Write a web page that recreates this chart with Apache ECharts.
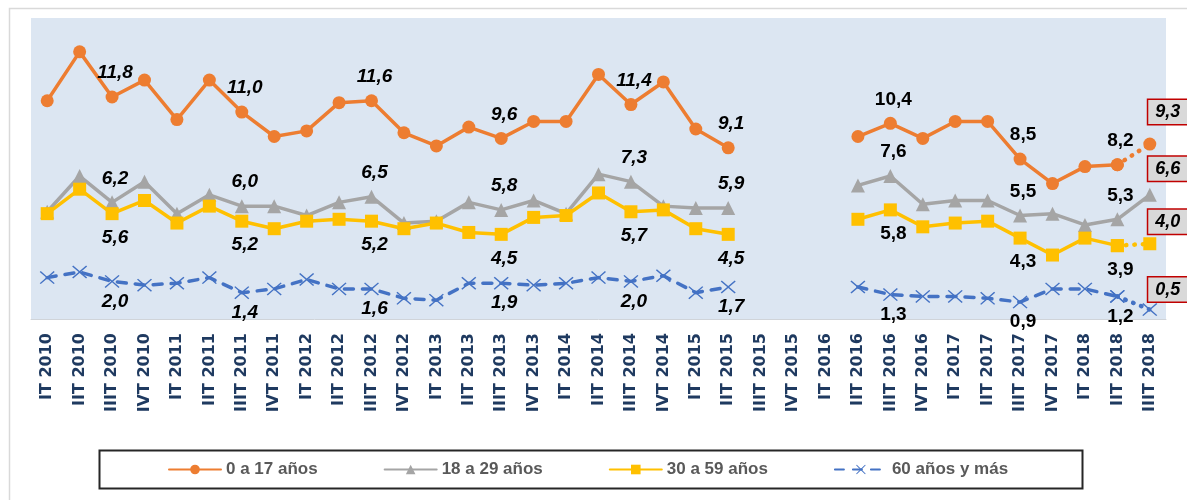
<!DOCTYPE html>
<html>
<head>
<meta charset="utf-8">
<script src="https://cdn.jsdelivr.net/npm/echarts@6/dist/echarts.min.js"></script>
<style>
  body { margin: 0; background: #fff; }
  #chart { width: 1187px; height: 500px; }
</style>
</head>
<body>
<div id="chart"></div>
<script>
// categorías (trimestres)
var categories = [
  'IT 2010', 'IIT 2010', 'IIIT 2010', 'IVT 2010',
  'IT 2011', 'IIT 2011', 'IIIT 2011', 'IVT 2011',
  'IT 2012', 'IIT 2012', 'IIIT 2012', 'IVT 2012',
  'IT 2013', 'IIT 2013', 'IIIT 2013', 'IVT 2013',
  'IT 2014', 'IIT 2014', 'IIIT 2014', 'IVT 2014',
  'IT 2015', 'IIT 2015', 'IIIT 2015', 'IVT 2015',
  'IT 2016', 'IIT 2016', 'IIIT 2016', 'IVT 2016',
  'IT 2017', 'IIT 2017', 'IIIT 2017', 'IVT 2017',
  'IT 2018', 'IIT 2018', 'IIIT 2018'
];
var seriesNames = ['0 a 17 años', '18 a 29 años', '30 a 59 años', '60 años y más'];
var age0to17 = [11.6, 14.2, 11.8, 12.7, 10.6, 12.7, 11.0, 9.7, 10.0, 11.5, 11.6, 9.9, 9.2, 10.2, 9.6, 10.5, 10.5, 13.0,
  11.4, 12.6, 10.1, 9.1, null, null, null, 9.7, 10.4, 9.6, 10.5, 10.5, 8.5, 7.2, 8.1, 8.2, 9.3];
var age18to29 = [5.7, 7.6, 6.2, 7.3, 5.6, 6.6, 6.0, 6.0, 5.5, 6.2, 6.5, 5.1, 5.2, 6.2, 5.8, 6.3, 5.6, 7.7,
  7.3, 6.0, 5.9, 5.9, null, null, null, 7.1, 7.6, 6.1, 6.3, 6.3, 5.5, 5.6, 5.0, 5.3, 6.6];
var age30to59 = [5.6, 6.9, 5.6, 6.3, 5.1, 6.0, 5.2, 4.8, 5.2, 5.3, 5.2, 4.8, 5.1, 4.6, 4.5, 5.4, 5.5, 6.7,
  5.7, 5.8, 4.8, 4.5, null, null, null, 5.3, 5.8, 4.9, 5.1, 5.2, 4.3, 3.4, 4.3, 3.9, 4.0];
var age60plus = [2.2, 2.5, 2.0, 1.8, 1.9, 2.2, 1.4, 1.6, 2.1, 1.6, 1.6, 1.1, 1.0, 1.9, 1.9, 1.8, 1.9, 2.2,
  2.0, 2.3, 1.4, 1.7, null, null, null, 1.7, 1.3, 1.2, 1.2, 1.1, 0.9, 1.6, 1.6, 1.2, 0.5];
// puntos con etiqueta
var labelIdx = [2, 6, 10, 14, 18, 21, 26, 30, 33];

(function () {
  var myChart = echarts.init(document.getElementById('chart'));
  var lastIdx = categories.length - 1;
  var crossPath = 'path://M0,0.7 L0.7,0 L5,4.3 L9.3,0 L10,0.7 L5.7,5 L10,9.3 L9.3,10 L5,5.7 L0.7,10 L0,9.3 L4.3,5 Z';

  function fmt(v) {
    return v.toFixed(1).replace('.', ',');
  }

  // etiqueta en caja roja para el último trimestre
  function boxLabel(v, dy) {
    return {
      show: true,
      offset: [18, dy],
      fontStyle: 'italic',
      fontSize: 18,
      backgroundColor: '#d9d9d9',
      borderColor: '#c00000',
      borderWidth: 1.5,
      padding: [3, 7],
      formatter: fmt(v)
    };
  }

  // datos con etiquetas por punto
  function buildData(values, dy, boxDy, keepLast) {
    return values.map(function (v, i) {
      if (v === null) return null;
      if (i === lastIdx) {
        return keepLast ? { value: v, label: boxLabel(v, boxDy) } : null;
      }
      var item = { value: v };
      if (labelIdx.indexOf(i) >= 0) {
        item.label = {
          show: true,
          offset: [3, dy],
          fontStyle: i < 22 ? 'italic' : 'normal',
          formatter: fmt(v)
        };
      }
      return item;
    });
  }

  // tramo punteado IIT 2018 -> IIIT 2018
  function tailData(values, boxDy) {
    return values.map(function (v, i) {
      if (i === lastIdx) return { value: v, label: boxLabel(v, boxDy) };
      if (i === lastIdx - 1) return v;
      return null;
    });
  }

  var baseLabel = {
    show: false,
    position: 'inside',
    fontFamily: 'Liberation Sans, Arial, sans-serif',
    fontSize: 19,
    fontWeight: 'bold',
    color: '#000'
  };

  var defs = [
    { values: age0to17, color: '#ed7d31', symbol: 'circle', size: 13, dy: -24, boxDy: -32, dotted: true, line: 'solid' },
    { values: age18to29, color: '#a5a5a5', symbol: 'triangle', size: 14, dy: -24, boxDy: -26, dotted: false, line: 'solid' },
    { values: age30to59, color: '#ffc000', symbol: 'rect', size: 13, dy: 24, boxDy: -22, dotted: true, line: 'solid' },
    { values: age60plus, color: '#4472c4', symbol: crossPath, size: [15, 13], dy: 20, boxDy: -20, dotted: true, line: [9, 9] }
  ];

  var series = [];
  defs.forEach(function (d, k) {
    series.push({
      name: seriesNames[k],
      type: 'line',
      data: buildData(d.values, d.dy, d.boxDy, !d.dotted),
      symbol: d.symbol,
      symbolSize: d.size,
      itemStyle: { color: d.color },
      lineStyle: { color: d.color, width: 3.5, type: d.line, cap: 'round' },
      label: baseLabel,
      emphasis: { disabled: true }
    });
  });
  defs.forEach(function (d, k) {
    if (!d.dotted) return;
    series.push({
      name: seriesNames[k] + ' tail',
      type: 'line',
      data: tailData(d.values, d.boxDy),
      symbol: d.symbol,
      symbolSize: d.size,
      itemStyle: { color: d.color },
      lineStyle: { color: d.color, width: 4.5, type: [0.5, 8], cap: 'round' },
      label: baseLabel,
      emphasis: { disabled: true },
      z: 1
    });
  });

  var option = {
    animation: false,
    grid: {
      left: 31,
      right: 21,
      top: 18,
      bottom: 181,
      show: true,
      backgroundColor: '#dce6f2',
      borderWidth: 0,
      containLabel: false,
      outerBoundsMode: 'none'
    },
    legend: {
      data: seriesNames,
      left: 163,
      top: 456,
      itemWidth: 52,
      itemHeight: 12,
      itemGap: 66,
      textStyle: {
        fontFamily: 'Liberation Sans, Arial, sans-serif',
        fontSize: 17,
        fontWeight: 'bold',
        color: '#595959'
      }
    },
    graphic: [
      {
        type: 'rect',
        left: 7,
        top: 6,
        shape: { width: 1220, height: 520 },
        style: { fill: 'none', stroke: '#d9d9d9', lineWidth: 1.5 },
        silent: true,
        z: -10
      },
      {
        type: 'rect',
        left: 97,
        top: 448,
        shape: { width: 983, height: 38 },
        style: { fill: 'none', stroke: '#262626', lineWidth: 2 },
        silent: true
      }
    ],
    xAxis: {
      type: 'category',
      data: categories,
      axisTick: { show: false },
      axisLine: { lineStyle: { color: '#d0d4d9', width: 1 } },
      axisLabel: {
        interval: 0,
        rotate: 90,
        margin: 14,
        fontFamily: 'DejaVu Sans',
        fontSize: 16,
        fontWeight: 'bold',
        color: '#1f3a60'
      }
    },
    yAxis: {
      type: 'value',
      min: 0,
      max: 16,
      show: false,
      splitLine: { show: false }
    },
    series: series
  };
  myChart.setOption(option);
})();
</script>
</body>
</html>
